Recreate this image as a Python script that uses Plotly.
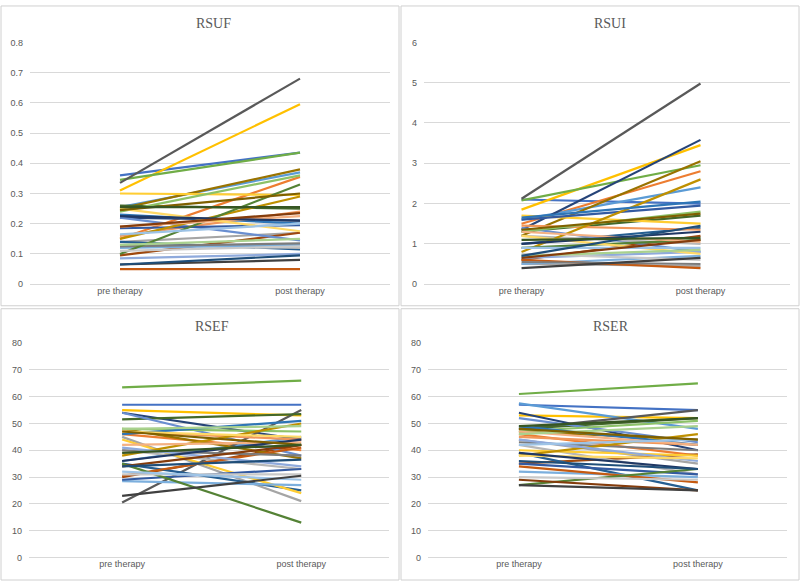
import plotly.graph_objects as go

categories = ["pre therapy", "post therapy"]

palette = [
    "#4472C4", "#ED7D31", "#A5A5A5", "#FFC000", "#5B9BD5", "#70AD47",
    "#264478", "#9E480E", "#595959", "#997300", "#255E91", "#43682B",
    "#698ED0", "#F1975A", "#B7B7B7", "#FFCD33", "#7CAFDD", "#8CC168",
    "#335AA1", "#C55A11", "#7C7C7C", "#BF9000", "#2E75B6", "#548235",
    "#8FAADC", "#F4B183", "#C9C9C9", "#FFD966", "#9DC3E6", "#A9D18E",
    "#203864", "#843C0C", "#404040", "#7F6000", "#1F4E79", "#375623",
]

rsuf_pre = [0.36, 0.15, 0.14, 0.31, 0.255, 0.345, 0.22, 0.095, 0.335, 0.25, 0.14, 0.26,
            0.22, 0.16, 0.13, 0.30, 0.12, 0.24, 0.185, 0.05, 0.125, 0.15, 0.23, 0.10,
            0.085, 0.19, 0.11, 0.25, 0.165, 0.13, 0.225, 0.19, 0.065, 0.245, 0.065, 0.255]
rsuf_post = [0.435, 0.355, 0.17, 0.595, 0.37, 0.435, 0.21, 0.17, 0.68, 0.38, 0.115, 0.25,
             0.145, 0.24, 0.12, 0.295, 0.13, 0.36, 0.195, 0.05, 0.135, 0.29, 0.20, 0.33,
             0.10, 0.225, 0.125, 0.175, 0.20, 0.15, 0.21, 0.235, 0.08, 0.30, 0.095, 0.255]

rsui_pre = [2.1, 1.5, 0.5, 1.85, 1.6, 2.08, 1.35, 0.6, 2.12, 1.2, 1.0, 1.3,
            1.4, 1.45, 1.2, 1.7, 0.5, 1.3, 1.6, 0.6, 0.55, 0.8, 1.65, 0.9,
            0.65, 1.3, 0.75, 1.2, 0.9, 0.7, 1.0, 0.65, 0.4, 1.35, 0.7, 1.1]
rsui_post = [2.0, 2.8, 0.45, 3.45, 2.4, 2.95, 3.58, 1.2, 4.98, 3.05, 1.4, 1.7,
             0.8, 1.35, 1.0, 1.5, 0.7, 1.8, 1.95, 0.4, 0.5, 2.6, 2.05, 1.1,
             0.8, 1.05, 0.6, 0.75, 0.9, 0.85, 1.3, 1.1, 0.65, 1.75, 1.45, 1.15]

rsef_pre = [57, 46, 45, 55, 36, 63.5, 54, 30, 20.5, 48, 35, 51.5,
            54, 47, 40, 44, 28.5, 48, 29, 30.5, 40, 38, 46, 35,
            41, 42, 31, 47, 32, 48, 36, 34, 23, 47, 34, 39]
rsef_post = [57, 40, 21, 53, 45, 66, 44, 42, 55, 37, 25, 53.5,
             38, 44, 33, 24, 27, 47, 33, 41, 38, 50, 51, 13,
             34, 43, 31, 45, 29, 49, 44, 42, 30.5, 42, 36.5, 42]

rser_pre = [57, 46, 44, 53, 57.5, 61, 54, 35, 48, 47, 39, 48,
            52, 45, 42, 40, 32, 47, 35, 34, 43, 38, 49, 27,
            44, 47, 30, 38, 42, 46, 39, 29, 27, 48, 36, 49]
rser_post = [55, 38, 35, 52, 48, 65, 40, 38.5, 55, 44, 25, 52,
             43, 42, 31, 38, 30, 51, 31, 28, 40, 46, 42, 33,
             36, 42, 29, 37, 44, 49, 33, 25, 25, 44, 33, 52]

rsuf_ticks = [0, 0.1, 0.2, 0.3, 0.4, 0.5, 0.6, 0.7, 0.8]
rsuf_ticktext = ["0", "0.1", "0.2", "0.3", "0.4", "0.5", "0.6", "0.7", "0.8"]

panels = [
    ("RSUF", rsuf_pre, rsuf_post, [0, 0.8], 0.1),
    ("RSUI", rsui_pre, rsui_post, [0, 6], 1),
    ("RSEF", rsef_pre, rsef_post, [0, 80], 10),
    ("RSER", rser_pre, rser_post, [0, 80], 10),
]

W, H = 800, 586
# pixel boxes of plot areas (x0, x1, ytop, ybottom)
boxes = [
    (30, 390, 38, 284),
    (424, 790, 38, 284),
    (29, 389, 344, 562),
    (428, 787, 344, 562),
]
xranges = [[-0.5, 1.5], [-0.545, 1.5], [-0.52, 1.49], [-0.508, 1.498]]
title_y = [19, 19, 327, 327]

fig = go.Figure()
grid = "#D9D9D9"
txt = "#595959"

for k, (title, pre, post, yr, dt) in enumerate(panels):
    sfx = "" if k == 0 else str(k + 1)
    for i in range(len(pre)):
        fig.add_trace(go.Scatter(
            x=categories, y=[pre[i], post[i]], mode="lines",
            line=dict(color=palette[i % len(palette)], width=2.2),
            showlegend=False, hoverinfo="skip",
            xaxis="x" + sfx, yaxis="y" + sfx,
        ))
    x0, x1, yt, yb = boxes[k]
    fig.layout["xaxis" + sfx] = dict(
        domain=[x0 / W, x1 / W], anchor="y" + sfx, type="category",
        range=xranges[k], showgrid=False, showline=False, zeroline=False,
        ticks="", tickfont=dict(family="Liberation Sans, Arial", size=9, color=txt),
    )
    fig.layout["yaxis" + sfx] = dict(
        domain=[(H - yb) / H, (H - yt) / H], anchor="x" + sfx,
        range=yr, dtick=dt, showgrid=True, gridcolor=grid, gridwidth=1,
        zeroline=True, zerolinecolor=grid, zerolinewidth=1, showline=False,
        ticks="", ticklabelstandoff=6,
        tickfont=dict(family="Liberation Sans, Arial", size=9, color=txt),
    )
    fig.add_annotation(
        x=(x0 + x1) / 2 / W + 0.004, y=(H - title_y[k]) / H,
        xref="paper", yref="paper", text=title, showarrow=False,
        font=dict(family="Liberation Serif, Times New Roman", size=14, color=txt),
        xanchor="center", yanchor="middle",
    )

fig.layout.yaxis.tickvals = rsuf_ticks
fig.layout.yaxis.ticktext = rsuf_ticktext

# panel borders
for (px0, py0, px1, py1) in [(1, 1, 399, 306), (401, 1, 799, 306), (1, 309, 399, 585), (401, 309, 799, 585)]:
    fig.add_shape(type="rect", xref="paper", yref="paper",
                  x0=px0 / W, x1=px1 / W, y0=(H - py1) / H, y1=(H - py0) / H,
                  line=dict(color="#D0D0D0", width=1), fillcolor="rgba(0,0,0,0)", layer="below")

fig.update_layout(
    width=W, height=H, margin=dict(l=0, r=0, t=0, b=0),
    paper_bgcolor="white", plot_bgcolor="white",
)

fig.write_html("out.html", config={"displayModeBar": False},
               post_script="document.body.style.margin='0px';document.body.style.overflow='hidden';")
